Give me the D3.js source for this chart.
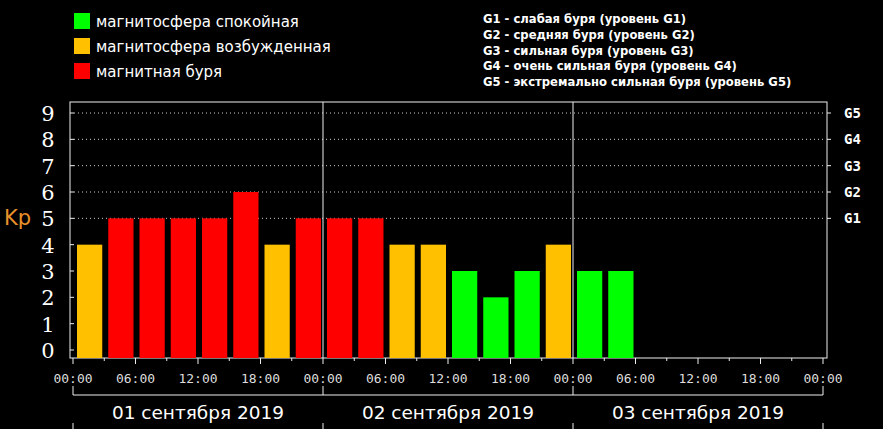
<!DOCTYPE html><html><head><meta charset="utf-8"><script src="https://cdn.jsdelivr.net/npm/d3@7"></script>
<style>body{margin:0;background:#000}svg{display:block}</style></head><body><svg id="c" width="883" height="429"></svg>
<script>
const kpValues=[4,5,5,5,5,6,4,5, 5,5,4,4,3,2,3,4, 3,3];
const days=["01 сентября 2019","02 сентября 2019","03 сентября 2019"];
const timeLabels=["00:00","06:00","12:00","18:00","00:00","06:00","12:00","18:00","00:00","06:00","12:00","18:00","00:00"];
const gLabels=["G1","G2","G3","G4","G5"];
const legendLeft=["магнитосфера спокойная","магнитосфера возбужденная","магнитная буря"];
const legendColors=["#00ff00","#ffc000","#ff0000"];
const legendRight=["G1 - слабая буря (уровень G1)","G2 - средняя буря (уровень G2)","G3 - сильная буря (уровень G3)","G4 - очень сильная буря (уровень G4)","G5 - экстремально сильная буря (уровень G5)"];

const svg=d3.select("#c");
const x=d3.scaleLinear().domain([0,24]).range([73,823]);
const y=d3.scaleLinear().domain([0,9]).range([350,113]);
const col=v=>v>=5?legendColors[2]:v==4?legendColors[1]:legendColors[0];

legendLeft.forEach((t,i)=>{
  svg.append("rect").attr("x",74).attr("y",13+i*25).attr("width",16).attr("height",16).attr("fill",legendColors[i]);
  svg.append("text").attr("x",96).attr("y",27+i*25).attr("fill","#fff").attr("font-family","DejaVu Sans").attr("font-size",15).text(t);
});
legendRight.forEach((t,i)=>{
  svg.append("text").attr("x",483).attr("y",23+i*15.8).attr("fill","#fff").attr("font-family","DejaVu Sans").attr("font-weight","bold").attr("font-size",11.6).text(t);
});
svg.append("rect").attr("x",70).attr("y",102).attr("width",757).attr("height",256).attr("fill","none").attr("stroke","#eee");
d3.range(5,10).forEach(v=>{
  svg.append("line").attr("x1",74).attr("x2",826).attr("y1",y(v)).attr("y2",y(v)).attr("stroke","#ccc").attr("stroke-dasharray","1,3");
});
svg.selectAll("rect.b").data(kpValues).enter().append("rect").attr("class","b")
  .attr("x",(d,i)=>x(i)+4).attr("width",x(1)-x(0)-6).attr("y",d=>y(d)).attr("height",d=>y(0)-y(d)+8).attr("fill",col);
[8,16].forEach(s=>svg.append("line").attr("x1",x(s)).attr("x2",x(s)).attr("y1",102).attr("y2",358).attr("stroke","#eee"));
d3.range(0,10).forEach(v=>{
  svg.append("text").attr("x",48).attr("y",y(v)+8).attr("fill","#fff").attr("font-family","DejaVu Serif").attr("font-size",21).attr("text-anchor","middle").text(v);
  svg.append("line").attr("x1",70).attr("x2",74).attr("y1",y(v)).attr("y2",y(v)).attr("stroke","#eee");
});
svg.append("text").attr("x",4).attr("y",225).attr("fill","#e8902a").attr("font-family","DejaVu Sans").attr("font-size",21).text("Kp");
gLabels.forEach((g,i)=>{
  svg.append("text").attr("x",844).attr("y",y(i+5)+5).attr("fill","#fff").attr("font-family","DejaVu Sans Mono").attr("font-weight","bold").attr("font-size",14).text(g);
  svg.append("line").attr("x1",827).attr("x2",831).attr("y1",y(i+5)).attr("y2",y(i+5)).attr("stroke","#eee");
});
d3.range(0,25).forEach(s=>svg.append("line").attr("x1",x(s)).attr("x2",x(s)).attr("y1",358).attr("y2",s%2==0?364:361).attr("stroke","#eee"));
timeLabels.forEach((t,i)=>svg.append("text").attr("x",x(i*2)).attr("y",383).attr("fill","#ddd").attr("font-family","DejaVu Sans Mono").attr("font-size",13).attr("text-anchor","middle").text(t));
svg.append("line").attr("x1",x(0)).attr("x2",x(24)).attr("y1",395).attr("y2",395).attr("stroke","#eee");
[0,8,16,24].forEach(s=>{
  svg.append("line").attr("x1",x(s)).attr("x2",x(s)).attr("y1",386).attr("y2",395).attr("stroke","#eee");
  svg.append("line").attr("x1",x(s)).attr("x2",x(s)).attr("y1",423).attr("y2",429).attr("stroke","#eee");
});
days.forEach((d,i)=>svg.append("text").attr("x",x(i*8+4)).attr("y",419).attr("fill","#fff").attr("font-family","DejaVu Sans").attr("font-size",18.5).attr("text-anchor","middle").text(d));
</script></body></html>
